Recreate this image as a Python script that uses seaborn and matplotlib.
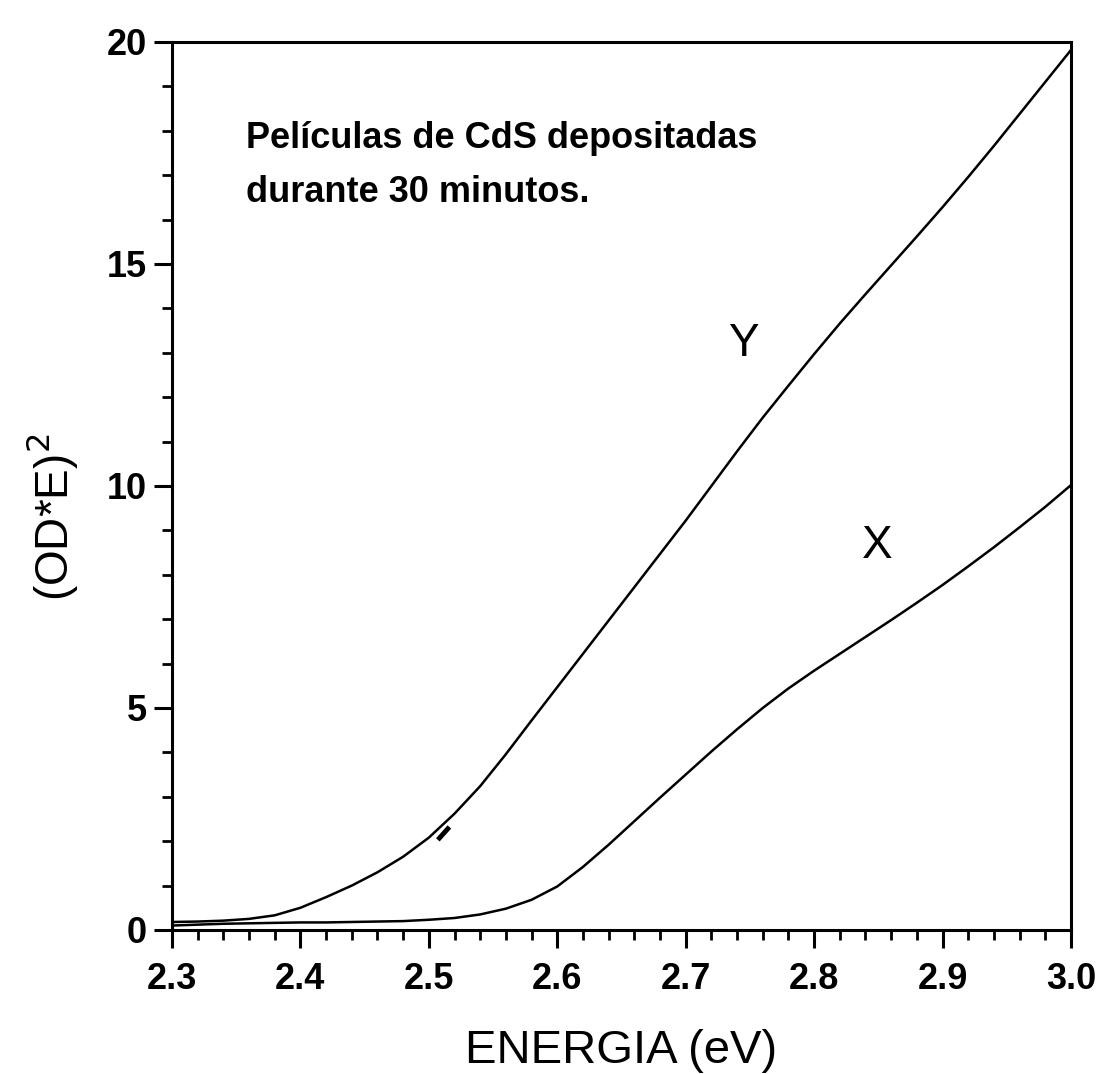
import numpy as np
import pandas as pd
import matplotlib
matplotlib.use("Agg")
import matplotlib.pyplot as plt
from matplotlib.ticker import MultipleLocator
import seaborn as sns

# ---- data ----
energy = [2.30, 2.32, 2.34, 2.36, 2.38, 2.40, 2.42, 2.44, 2.46, 2.48,
          2.50, 2.52, 2.54, 2.56, 2.58, 2.60, 2.62, 2.64, 2.66, 2.68,
          2.70, 2.72, 2.74, 2.76, 2.78, 2.80, 2.82, 2.84, 2.86, 2.88,
          2.90, 2.92, 2.94, 2.96, 2.98, 3.00]
curve_y = [0.18, 0.19, 0.21, 0.25, 0.33, 0.50, 0.74, 1.00, 1.30, 1.65,
           2.08, 2.62, 3.24, 3.96, 4.72, 5.47, 6.22, 6.97, 7.72, 8.47,
           9.22, 10.00, 10.78, 11.54, 12.26, 12.97, 13.66, 14.32, 14.97, 15.62,
           16.28, 16.96, 17.66, 18.38, 19.10, 19.82]
curve_x = [0.10, 0.12, 0.14, 0.15, 0.16, 0.17, 0.17, 0.18, 0.19, 0.20,
           0.23, 0.27, 0.35, 0.48, 0.68, 0.98, 1.42, 1.92, 2.45, 2.98,
           3.50, 4.02, 4.52, 5.00, 5.44, 5.84, 6.22, 6.60, 6.98, 7.37,
           7.77, 8.19, 8.62, 9.07, 9.53, 10.02]
series_names = ["Y", "X"]
# short linear-fit dash drawn near the Y curve
dash_e = [2.507, 2.516]
dash_v = [2.03, 2.32]

x_ticks = [2.3, 2.4, 2.5, 2.6, 2.7, 2.8, 2.9, 3.0]
y_ticks = [0, 5, 10, 15, 20]

df = pd.DataFrame({
    "E": energy + energy,
    "v": curve_y + curve_x,
    "serie": [series_names[0]] * len(energy) + [series_names[1]] * len(energy),
})

sns.set_theme(style="ticks")
plt.rcParams["font.family"] = ["Liberation Sans", "DejaVu Sans"]
plt.rcParams["text.color"] = "black"
plt.rcParams["axes.labelcolor"] = "black"
plt.rcParams["xtick.color"] = "black"
plt.rcParams["ytick.color"] = "black"

fig = plt.figure(figsize=(10.99, 10.74), dpi=100)
ax = fig.add_axes([0.1565, 0.1341, 0.8180, 0.8268])

sns.lineplot(data=df, x="E", y="v", hue="serie", palette=["black", "black"],
             linewidth=1.8, legend=False, ax=ax, sort=True)
ax.plot(dash_e, dash_v, color="black", linewidth=3.5, solid_capstyle="butt")

ax.set_xlim(2.3, 3.0)
ax.set_ylim(0, 20)
ax.set_xticks(x_ticks)
ax.set_xticklabels([f"{t:.1f}" for t in x_ticks])
ax.set_yticks(y_ticks)
ax.xaxis.set_minor_locator(MultipleLocator(0.02))
ax.yaxis.set_minor_locator(MultipleLocator(1))

for s in ax.spines.values():
    s.set_linewidth(2.2)
    s.set_color("black")

ax.tick_params(axis="both", which="major", direction="out", length=13, width=2.2,
               labelsize=26, colors="black")
ax.tick_params(axis="x", which="major", pad=10)
ax.tick_params(axis="y", which="major", pad=5)
ax.tick_params(axis="both", which="minor", direction="out", length=7, width=2.0)
ax.tick_params(top=False, right=False, which="both")
for lab in ax.get_xticklabels() + ax.get_yticklabels():
    lab.set_fontweight("bold")

ax.set_xlabel("ENERGIA (eV)", fontsize=34)
ax.xaxis.set_label_coords(0.5, -0.112)
ax.set_ylabel("(OD*E)$^2$", fontsize=33)
ax.yaxis.set_label_coords(-0.102, 0.465)

ax.text(2.358, 18.22, "Películas de CdS depositadas\ndurante 30 minutos.",
        fontsize=26, fontweight="bold", ha="left", va="top", linespacing=1.7)
ax.text(2.745, 13.2, series_names[0], fontsize=33, ha="center", va="center")
ax.text(2.849, 8.65, series_names[1], fontsize=33, ha="center", va="center")

ax.set_facecolor("white")
fig.patch.set_facecolor("white")
fig.savefig("out.png", dpi=100, facecolor="white")
